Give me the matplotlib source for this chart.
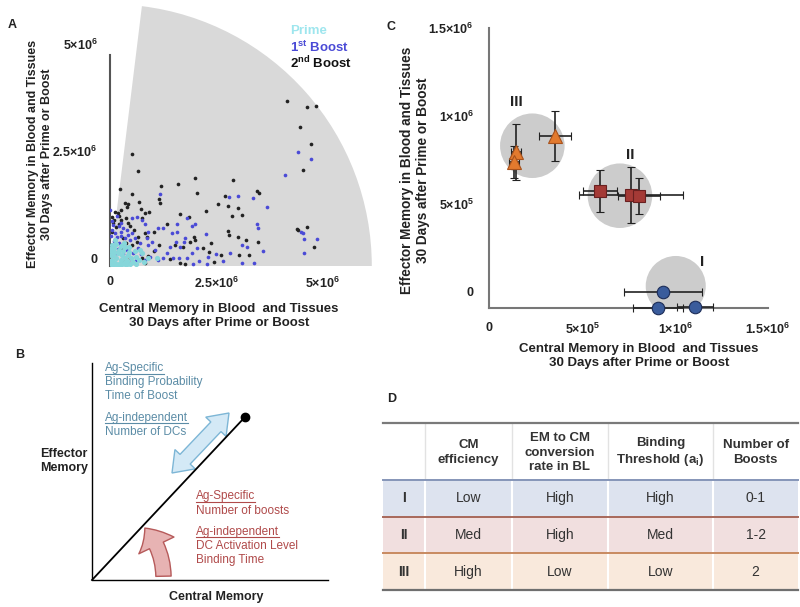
import numpy as np
import matplotlib
matplotlib.use('Agg')
import matplotlib.pyplot as plt
import matplotlib.patches as mpatches

plt.rcParams['font.family'] = ['Liberation Sans', 'DejaVu Sans']
plt.rcParams['mathtext.fontset'] = 'custom'
plt.rcParams['mathtext.rm'] = 'Liberation Sans'
plt.rcParams['mathtext.bf'] = 'Liberation Sans:bold'
plt.rcParams['mathtext.it'] = 'Liberation Sans:italic'

W, H = 800, 607

# ---------------- panel A data (millions of cells) ----------------
boost2_x = [4.17, 4.63, 4.84, 4.47, 4.72, 4.53, 4.43, 4.63, 4.81, 4.40,
            0.51, 0.65, 2.00, 2.90, 1.20, 1.59, 0.24, 2.04, 0.52, 1.16, 1.18, 2.71, 3.45, 3.51,
            2.55, 2.78, 3.00, 1.65, 2.25, 3.11, 2.86, 2.77, 2.81, 3.00, 3.19, 3.04, 3.28, 3.49,
            2.38, 2.33, 2.18, 2.00, 1.98, 1.88, 1.53, 1.72, 1.15, 1.04, 0.89, 0.76, 1.41, 1.65,
            1.76, 1.33, 1.04, 0.82, 0.88, 0.82, 0.92, 0.75, 1.87, 2.60, 2.45,
            0.35, 0.69, 0.73, 0.39, 0.43, 0.12, 0.18, 0.27, 0.04, 0.10, 0.20, 0.27, 0.37, 0.43,
            0.47, 0.57, 0.67, 0.63, 0.51, 0.37, 0.31, 0.47, 0.34, 0.82, 0.08, 0.15, 0.22, 0.05,
            0.12, 0.02, 0.25]
boost2_y = [3.88, 3.75, 3.76, 3.26, 2.87, 2.27, 0.85, 0.91, 0.45, 0.88,
            2.64, 2.24, 2.08, 2.02, 1.89, 1.92, 1.81, 1.71, 1.69, 1.57, 1.48, 1.65, 1.77, 1.71,
            1.46, 1.41, 1.36, 1.22, 1.30, 1.20, 1.18, 0.83, 0.73, 0.69, 0.61, 0.25, 0.25, 0.57,
            0.55, 0.32, 0.42, 0.61, 0.69, 0.57, 0.49, 0.45, 0.49, 0.36, 0.24, 0.20, 0.16, 0.06,
            0.05, 1.00, 0.81, 0.77, 0.69, 1.25, 1.28, 1.14, 1.15, 0.25, 0.10,
            1.48, 1.51, 1.34, 1.40, 1.45, 1.28, 1.24, 1.32, 1.16, 1.08, 1.18, 1.08, 1.12, 1.02,
            0.93, 0.85, 0.69, 0.57, 0.49, 0.55, 0.65, 0.20, 0.10, 0.06, 1.02, 0.92, 0.98, 0.80,
            0.62, 0.50, 0.40]

boost1_x = [4.43, 4.72, 4.12, 4.55, 4.56, 4.88, 4.56, 4.50,
            3.69, 3.02, 2.81, 3.37, 1.18, 2.00, 2.25, 3.45, 3.49, 1.57, 1.14, 3.61, 3.39, 3.10,
            3.10, 3.23, 2.82, 2.49, 2.31, 1.74, 2.04, 1.65, 1.25, 1.45, 1.57, 1.80, 1.94, 1.76,
            1.55, 1.41, 1.33, 1.25, 1.49, 1.62, 1.80, 1.92, 0.94, 1.14, 0.82, 2.10, 2.65, 1.95,
            2.28,
            0.00, 0.16, 0.52, 0.63, 0.75, 0.08, 0.20, 0.31, 0.39, 0.26, 0.12, 0.04, 0.16, 0.27,
            0.42, 0.51, 0.59, 0.47, 0.82, 0.90, 0.86, 0.98, 0.90, 1.06, 0.05, 0.10, 0.22, 0.33,
            0.06, 0.18, 0.40, 0.55, 0.65, 0.72, 0.62, 0.48, 0.30, 0.14, 0.02, 0.35, 0.70, 0.25]
boost1_y = [2.69, 2.52, 2.14, 0.77, 0.63, 0.63, 0.30, 0.80,
            1.38, 1.65, 1.62, 1.59, 1.69, 0.99, 0.75, 0.99, 0.89, 1.00, 0.90, 0.36, 0.06, 0.06,
            0.49, 0.45, 0.30, 0.28, 0.22, 0.57, 0.42, 0.45, 0.89, 0.77, 0.79, 1.12, 0.93, 0.65,
            0.57, 0.44, 0.30, 0.18, 0.18, 0.20, 0.20, 0.30, 0.22, 0.14, 0.14, 0.12, 0.12, 0.05,
            0.05,
            1.32, 1.18, 1.12, 1.16, 1.08, 0.96, 0.93, 0.89, 0.85, 0.81, 0.77, 0.85, 0.69, 0.71,
            0.73, 0.77, 0.65, 0.61, 1.00, 0.81, 0.65, 0.57, 0.49, 0.38, 1.05, 0.60, 0.55, 0.48,
            0.45, 0.40, 0.38, 0.30, 0.42, 0.28, 0.15, 0.08, 0.28, 0.30, 0.70, 0.65, 0.55, 1.02]

prime_x = [0.02, 0.05, 0.08, 0.03, 0.12, 0.15, 0.18, 0.10, 0.22, 0.25, 0.28, 0.20, 0.32,
           0.35, 0.30, 0.40, 0.42, 0.38, 0.48, 0.50, 0.45, 0.55, 0.60, 0.05, 0.15, 0.25, 0.35,
           0.02, 0.07, 0.17, 0.27, 0.62, 0.71, 0.90, 1.10, 0.80, 0.58, 0.12, 0.00, 0.00, 0.10,
           0.33, 0.45, 0.68, 0.75]
prime_y = [0.05, 0.15, 0.25, 0.35, 0.08, 0.18, 0.30, 0.42, 0.05, 0.15, 0.25, 0.38, 0.08,
           0.20, 0.35, 0.12, 0.25, 0.02, 0.05, 0.18, 0.32, 0.10, 0.22, 0.50, 0.52, 0.48, 0.45,
           0.25, 0.02, 0.02, 0.02, 0.05, 0.38, 0.20, 0.18, 0.10, 0.35, 0.62, 0.12, 0.40, 0.32,
           0.55, 0.45, 0.15, 0.30]

wedge_radius = 6.16
wedge_angle = 83

# ---------------- panel C data (millions of cells) ----------------
c3_x = [0.355, 0.143, 0.136]
c3_y = [0.886, 0.797, 0.740]
c3_xerr = [0.086, 0.027, 0.027]
c3_yerr = [0.140, 0.160, 0.090]
c2_x = [0.597, 0.762, 0.808]
c2_y = [0.574, 0.551, 0.545]
c2_xerr = [0.090, 0.280, 0.113]
c2_yerr = [0.119, 0.159, 0.102]
c1_x = [0.937, 0.907, 1.108]
c1_y = [0.000, -0.089, -0.083]
c1_xerr = [0.210, 0.134, 0.098]
c1_yerr = [0.020, 0.0, 0.0]
halo_x = [0.233, 0.704, 1.004]
halo_y = [0.831, 0.547, 0.034]
halo_size = [2160, 2160, 1870]
group_names = ['III', 'II', 'I']
group_lab_x = [0.149, 0.762, 1.147]
group_lab_y = [1.081, 0.778, 0.172]

# ---------------- panel D table ----------------
table_header = ['', 'CM\nefficiency', 'EM to CM\nconversion\nrate in BL',
                'Binding\nThreshold (a$_{\\mathbf{i}}$)', 'Number of\nBoosts']
row_labels = ['I', 'II', 'III']
cm_efficiency = ['Low', 'Med', 'High']
em_to_cm = ['High', 'High', 'Low']
binding_threshold = ['High', 'Med', 'Low']
n_boosts = ['0-1', '1-2', '2']
row_colors = ['#dde3ef', '#f1dfdf', '#f9e9dc']
row_lines = ['#8595b8', '#a8685a', '#c88a60']

fig = plt.figure(figsize=(8, 6.07), dpi=100)

# overlay axes in pixel units for diagram, table and labels
ov = fig.add_axes([0, 0, 1, 1])
ov.set_xlim(0, W)
ov.set_ylim(H, 0)
ov.axis('off')


def px_axes(x0, y0, x1, y1):
    # pixel box (y from top) -> figure fraction rect
    return [x0 / W, 1 - y1 / H, (x1 - x0) / W, (y1 - y0) / H]


bold = dict(fontweight='bold', color='#222222')

# ---------------- Panel A ----------------
axA = fig.add_axes(px_axes(110, 0, 376, 266))
axA.set_facecolor('none')
axA.set_xlim(0, 266 / 42.5)
axA.set_ylim(0, 266 / 42.5)
axA.add_patch(mpatches.Wedge((0, 0), wedge_radius, 0, wedge_angle, facecolor='#d9d9d9',
                             edgecolor='none', zorder=0))
axA.scatter(boost2_x, boost2_y, s=7, color='#222222', linewidths=0, zorder=2)
axA.scatter(boost1_x, boost1_y, s=7, color='#4a4ad6', linewidths=0, zorder=3)
axA.scatter(prime_x, prime_y, s=14, color='#86d6da', linewidths=0, zorder=4)
for s in ['top', 'right', 'bottom']:
    axA.spines[s].set_visible(False)
axA.spines['left'].set_bounds(0, 4.96)
axA.spines['left'].set_color('#555555')
axA.spines['left'].set_linewidth(1.5)
axA.set_xticks([0, 2.5, 5])
axA.set_xticklabels(['0', r'$\mathbf{2.5{\times}10^{6}}$', r'$\mathbf{5{\times}10^{6}}$'])
axA.set_yticks([0, 2.5, 5])
axA.set_yticklabels(['0', r'$\mathbf{2.5{\times}10^{6}}$', r'$\mathbf{5{\times}10^{6}}$'])
axA.tick_params(length=0, labelsize=9, labelcolor='#222222')
axA.tick_params(axis='x', pad=7)
axA.tick_params(axis='y', pad=9)
for lbl in axA.get_xticklabels() + axA.get_yticklabels():
    lbl.set_fontweight('bold')
for lbl in axA.get_yticklabels():
    lbl.set_va('bottom')

ov.text(290, 31, 'Prime', color='#9ee6ee', fontsize=9.5, fontweight='bold', va='center')
ov.text(290, 47, r'1$^{\mathbf{st}}$ Boost', color='#4a4ad6', fontsize=9.5, fontweight='bold', va='center')
ov.text(290, 63, r'2$^{\mathbf{nd}}$ Boost', color='#111111', fontsize=9.5, fontweight='bold', va='center')

ov.text(40, 154, 'Effector Memory in Blood and Tissues\n30 Days after Prime or Boost',
        rotation=90, ha='center', va='center', fontsize=9, linespacing=1.2, **bold)
ov.text(219, 316, 'Central Memory in Blood  and Tissues\n30 Days after Prime or Boost',
        ha='center', va='center', fontsize=9.5, linespacing=1.15, **bold)

# ---------------- Panel C ----------------
axC = fig.add_axes(px_axes(489, 28, 768, 308))
axC.set_facecolor('none')
axC.set_xlim(0, 1.5)
axC.set_ylim(-0.091, 1.5)
axC.scatter(halo_x, halo_y, s=halo_size, color='#cccccc', linewidths=0, zorder=1)
ekw = dict(ecolor='#222222', elinewidth=1.2, capsize=3, capthick=1.2, linestyle='none',
           clip_on=False, zorder=3)
axC.errorbar(c3_x, c3_y, xerr=c3_xerr, yerr=c3_yerr, marker='^', ms=10,
             mfc='#e27a2e', mec='#a8521c', mew=0.8, **ekw)
axC.errorbar(c2_x, c2_y, xerr=c2_xerr, yerr=c2_yerr, marker='s', ms=9,
             mfc='#a43a36', mec='#6a2020', mew=0.8, **ekw)
axC.errorbar(c1_x, c1_y, xerr=c1_xerr, yerr=c1_yerr, marker='o', ms=9,
             mfc='#3a5c9c', mec='#1d2d58', mew=0.8, **ekw)
for nm, gx, gy in zip(group_names, group_lab_x, group_lab_y):
    axC.text(gx, gy, nm, ha='center', va='center', fontsize=11, **bold)
for s in ['top', 'right']:
    axC.spines[s].set_visible(False)
for s in ['left', 'bottom']:
    axC.spines[s].set_color('#777777')
    axC.spines[s].set_linewidth(1.5)
axC.set_xticks([0, 0.5, 1.0, 1.5])
axC.set_xticklabels(['0', r'$\mathbf{5{\times}10^{5}}$', r'$\mathbf{1{\times}10^{6}}$',
                     r'$\mathbf{1.5{\times}10^{6}}$'])
axC.set_yticks([0, 0.5, 1.0, 1.5])
axC.set_yticklabels(['0', r'$\mathbf{5{\times}10^{5}}$', r'$\mathbf{1{\times}10^{6}}$',
                     r'$\mathbf{1.5{\times}10^{6}}$'])
axC.tick_params(length=0, labelsize=9, labelcolor='#222222')
axC.tick_params(axis='x', pad=10)
axC.tick_params(axis='y', pad=11)
for lbl in axC.get_xticklabels() + axC.get_yticklabels():
    lbl.set_fontweight('bold')

ov.text(415, 170, 'Effector Memory in Blood and Tissues\n30 Days after Prime or Boost',
        rotation=90, ha='center', va='center', fontsize=9.8, linespacing=1.15, **bold)
ov.text(639, 356, 'Central Memory in Blood  and Tissues\n30 Days after Prime or Boost',
        ha='center', va='center', fontsize=9.5, linespacing=1.15, **bold)

# ---------------- Panel B (schematic) ----------------
ov.plot([92, 92, 328], [363, 580, 580], color='black', lw=1)
ov.plot([92, 245], [580, 417], color='black', lw=1.3)
ov.plot([245], [417], 'o', color='black', ms=6)


def double_arrow(p1, p2, w, hw, hl):
    p1 = np.array(p1, float)
    p2 = np.array(p2, float)
    u = (p2 - p1) / np.hypot(*(p2 - p1))
    n = np.array([-u[1], u[0]])
    a = p1 + u * hl
    b = p2 - u * hl
    return np.array([p1, a + n * hw, a + n * w, b + n * w, b + n * hw, p2,
                     b - n * hw, b - n * w, a - n * w, a - n * hw])


ov.add_patch(mpatches.Polygon(double_arrow((172, 473), (229, 413), 7, 14, 19),
                              closed=True, facecolor='#d4e9f6', edgecolor='#7db6d6', lw=1))
ov.add_patch(mpatches.FancyArrowPatch((163.5, 579), (143, 526), connectionstyle='arc3,rad=0.2',
                                      arrowstyle='simple,head_width=1.4,head_length=0.75,tail_width=0.55',
                                      mutation_scale=20, facecolor='#e7b3b3', edgecolor='#b65a5a', lw=1))

blue_txt = '#5b8ca6'
red_txt = '#b04a4a'
b_lines = [('Ag-Specific', 368, True), ('Binding Probability', 382, False), ('Time of Boost', 396, False),
           ('Ag-independent', 417.5, True), ('Number of DCs', 432, False)]
r_lines = [('Ag-Specific', 496.5, True), ('Number of boosts', 511, False),
           ('Ag-independent', 531.5, True), ('DC Activation Level', 546, False), ('Binding Time', 560, False)]
renderer = fig.canvas.get_renderer()
inv = ov.transData.inverted()
for lines, x0, col in [(b_lines, 105, blue_txt), (r_lines, 196, red_txt)]:
    for txt, y, under in lines:
        t = ov.text(x0, y, txt, color=col, fontsize=8.5, va='center', ha='left')
        if under:
            bb = t.get_window_extent(renderer=renderer)
            (ux0, uy), (ux1, _) = inv.transform([[bb.x0, bb.y0], [bb.x1, bb.y0]])
            ov.plot([ux0, ux1], [uy - 0.5, uy - 0.5], color=col, lw=0.8)

ov.text(40, 461, 'Effector\nMemory', ha='left', va='center', fontsize=9, linespacing=1.25, **bold)
ov.text(216, 597, 'Central Memory', ha='center', va='center', fontsize=9, **bold)

# ---------------- Panel D (table) ----------------
col_edges = [383, 425, 511.7, 607.7, 713.3, 798]
row_edges = [423.3, 480, 516.7, 553.3, 590]
col_mid = [(a + b) / 2 for a, b in zip(col_edges[:-1], col_edges[1:])]
for i in range(3):
    ov.add_patch(mpatches.Rectangle((col_edges[0], row_edges[i + 1]), col_edges[-1] - col_edges[0],
                                    row_edges[i + 2] - row_edges[i + 1], facecolor=row_colors[i],
                                    edgecolor='none'))
for xe in col_edges[1:-1]:
    ov.plot([xe, xe], [row_edges[0], row_edges[1]], color='#e2e2e2', lw=1)
    ov.plot([xe, xe], [row_edges[1], row_edges[-1]], color='white', lw=1.5)
ov.plot([col_edges[0], col_edges[-1]], [row_edges[0]] * 2, color='#7a7a7a', lw=1.6)
for i in range(3):
    ov.plot([col_edges[0], col_edges[-1]], [row_edges[i + 1]] * 2, color=row_lines[i], lw=1.4)
ov.plot([col_edges[0], col_edges[-1]], [row_edges[-1]] * 2, color='#6f6f6f', lw=1.6)

hy = (row_edges[0] + row_edges[1]) / 2 + 1
for cx, txt in zip(col_mid, table_header):
    ov.text(cx, hy, txt, ha='center', va='center', fontsize=9.5, linespacing=1.3,
            fontweight='bold', color='#333333')
columns = [row_labels, cm_efficiency, em_to_cm, binding_threshold, n_boosts]
for i in range(3):
    ry = (row_edges[i + 1] + row_edges[i + 2]) / 2
    for j, col in enumerate(columns):
        ov.text(col_mid[j], ry, col[i], ha='center', va='center', fontsize=10,
                fontweight='bold' if j == 0 else 'normal', color='#333333')

# panel letters
for letter, x, y in [('A', 12, 25), ('B', 20, 355), ('C', 391, 27), ('D', 392, 399)]:
    ov.text(x, y, letter, ha='center', va='center', fontsize=9, **bold)

fig.savefig('out.png', dpi=100)
